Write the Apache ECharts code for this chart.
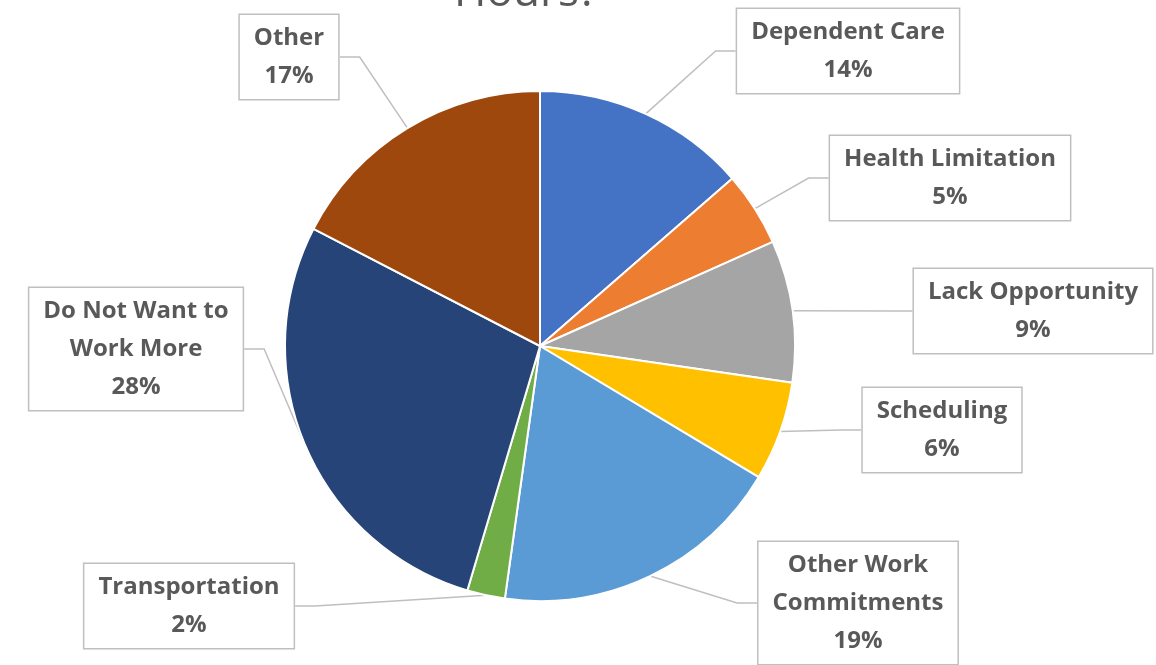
<!DOCTYPE html>
<html>
<head>
<meta charset="utf-8">
<title>Hours pie</title>
<script src="https://cdn.jsdelivr.net/npm/echarts@6/dist/echarts.min.js"></script>
<style>
  html, body { margin: 0; padding: 0; background: #fff; }
  #chart { width: 1156px; height: 665px; }
</style>
</head>
<body>
<div id="chart"></div>
<script>
// 数据
const categories = [
  'Dependent Care',
  'Health Limitation',
  'Lack Opportunity',
  'Scheduling',
  'Other Work\nCommitments',
  'Transportation',
  'Do Not Want to\nWork More',
  'Other'
];
const shares = [13.6, 4.7, 9.0, 6.3, 18.6, 2.4, 28.0, 17.4];
const colors = ['#4472C4', '#ED7D31', '#A5A5A5', '#FFC000', '#5B9BD5', '#70AD47', '#264478', '#9E480E'];

// callout box centres (px)
const calloutPos = [
  [848, 51], [950, 178], [1033, 311], [942, 430],
  [858, 603], [189, 606], [136, 349], [289, 57]
];

const chart = echarts.init(document.getElementById('chart'));

chart.setOption({
  animation: false,
  color: colors,
  graphic: [{
    type: 'text',
    x: 526,
    y: 15,
    style: {
      text: 'Hours?',
      font: '44px "Open Sans", sans-serif',
      fill: '#595959',
      align: 'center',
      verticalAlign: 'bottom'
    }
  }],
  series: [{
    type: 'pie',
    center: [540, 346],
    radius: 255,
    startAngle: 90,
    clockwise: true,
    data: categories.map((name, i) => ({ name, value: shares[i] })),
    itemStyle: { borderColor: '#fff', borderWidth: 2 },
    label: {
      show: true,
      formatter: p => p.name + '\n' + Math.round(p.percent) + '%',
      fontFamily: '"Open Sans", sans-serif',
      fontWeight: 'bold',
      fontSize: 24,
      lineHeight: 38,
      color: '#595959',
      backgroundColor: '#fff',
      borderColor: '#BFBFBF',
      borderWidth: 1.5,
      padding: [4, 14, 4, 14],
      align: 'center'
    },
    labelLine: {
      show: true,
      length: 20,
      length2: 20,
      lineStyle: { color: '#BFBFBF', width: 1.5 }
    },
    labelLayout: p => ({
      x: calloutPos[p.dataIndex][0],
      y: calloutPos[p.dataIndex][1],
      align: 'center',
      verticalAlign: 'middle'
    })
  }]
});
</script>
</body>
</html>
